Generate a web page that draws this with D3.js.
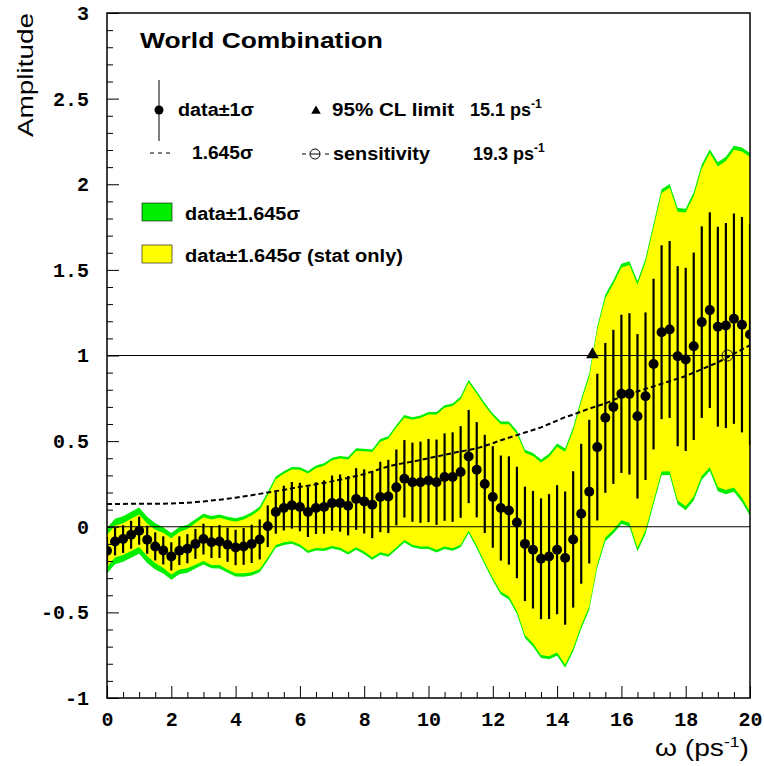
<!DOCTYPE html>
<html>
<head>
<meta charset="utf-8">
<script src="https://cdn.jsdelivr.net/npm/d3@7"></script>
<style>
  body { margin: 0; background: #fff; }
  text { font-family: "Liberation Sans", Arial, sans-serif; }
  .tick text { font-family: "Liberation Mono", "Courier New", monospace; font-weight: bold; font-size: 20px; }
</style>
</head>
<body>
<div id="chart"></div>
<script>
// scan points (ps^-1)
const omega = [0, 0.25, 0.5, 0.75, 1, 1.25, 1.5, 1.75, 2, 2.25, 2.5, 2.75, 3, 3.25, 3.5, 3.75,
  4, 4.25, 4.5, 4.75, 5, 5.25, 5.5, 5.75, 6, 6.25, 6.5, 6.75, 7, 7.25, 7.5, 7.75,
  8, 8.25, 8.5, 8.75, 9, 9.25, 9.5, 9.75, 10, 10.25, 10.5, 10.75, 11, 11.25, 11.5, 11.75,
  12, 12.25, 12.5, 12.75, 13, 13.25, 13.5, 13.75, 14, 14.25, 14.5, 14.75, 15, 15.25, 15.5, 15.75,
  16, 16.25, 16.5, 16.75, 17, 17.25, 17.5, 17.75, 18, 18.25, 18.5, 18.75, 19, 19.25, 19.5, 19.75, 20];

// measured amplitude
const amplitude = [-0.14, -0.086, -0.072, -0.047, -0.023, -0.076, -0.115, -0.138, -0.173, -0.14, -0.128, -0.10, -0.072, -0.09, -0.086, -0.105,
  -0.121, -0.115, -0.10, -0.074, 0.003, 0.086, 0.109, 0.125, 0.115, 0.086, 0.109, 0.115, 0.138, 0.138, 0.123, 0.162,
  0.148, 0.129, 0.174, 0.177, 0.23, 0.28, 0.26, 0.26, 0.27, 0.26, 0.29, 0.29, 0.32, 0.41, 0.333, 0.25,
  0.174, 0.109, 0.095, 0.025, -0.10, -0.134, -0.187, -0.174, -0.134, -0.183, -0.074, 0.076, 0.205, 0.465, 0.636, 0.70,
  0.776, 0.776, 0.645, 0.762, 0.95, 1.136, 1.152, 0.996, 0.977, 1.054, 1.195, 1.265, 1.168, 1.175, 1.215, 1.18, 1.123];

// 1.645 sigma, total errors (dashed curve)
const sig1645 = [0.133, 0.133, 0.133, 0.134, 0.135, 0.135, 0.135, 0.135, 0.136, 0.138, 0.140, 0.144, 0.148, 0.153, 0.158, 0.164,
  0.170, 0.177, 0.184, 0.192, 0.200, 0.208, 0.215, 0.224, 0.233, 0.240, 0.248, 0.256, 0.265, 0.275, 0.285, 0.296,
  0.308, 0.322, 0.338, 0.352, 0.364, 0.372, 0.380, 0.390, 0.400, 0.410, 0.420, 0.430, 0.440, 0.448, 0.458, 0.472,
  0.488, 0.505, 0.520, 0.535, 0.550, 0.565, 0.580, 0.600, 0.620, 0.640, 0.655, 0.672, 0.690, 0.705, 0.720, 0.740,
  0.760, 0.775, 0.790, 0.805, 0.820, 0.835, 0.850, 0.865, 0.880, 0.900, 0.920, 0.940, 0.960, 0.985, 1.010, 1.035, 1.060];

// 1.645 sigma, statistical errors only
const stat1645 = [0.093, 0.093, 0.093, 0.094, 0.095, 0.095, 0.097, 0.103, 0.106, 0.110, 0.115, 0.122, 0.128, 0.133, 0.138, 0.144,
  0.150, 0.157, 0.165, 0.174, 0.183, 0.192, 0.200, 0.209, 0.218, 0.225, 0.233, 0.241, 0.250, 0.260, 0.270, 0.281,
  0.293, 0.307, 0.323, 0.337, 0.349, 0.357, 0.365, 0.375, 0.385, 0.395, 0.405, 0.415, 0.425, 0.433, 0.443, 0.457,
  0.473, 0.489, 0.503, 0.517, 0.532, 0.547, 0.562, 0.582, 0.601, 0.621, 0.635, 0.652, 0.670, 0.685, 0.699, 0.718,
  0.738, 0.753, 0.768, 0.783, 0.798, 0.813, 0.828, 0.843, 0.858, 0.877, 0.897, 0.917, 0.936, 0.961, 0.986, 1.011, 1.036];

const limit95 = 15.1;
const sensitivity = 19.3;

const xMajor = [0, 2, 4, 6, 8, 10, 12, 14, 16, 18, 20];
const xMinor = [0.5, 1, 1.5, 2.5, 3, 3.5, 4.5, 5, 5.5, 6.5, 7, 7.5, 8.5, 9, 9.5, 10.5, 11, 11.5,
  12.5, 13, 13.5, 14.5, 15, 15.5, 16.5, 17, 17.5, 18.5, 19, 19.5];
const yMajor = [-1, -0.5, 0, 0.5, 1, 1.5, 2, 2.5, 3];
const yMinor = [-0.9, -0.8, -0.7, -0.6, -0.4, -0.3, -0.2, -0.1, 0.1, 0.2, 0.3, 0.4, 0.6, 0.7, 0.8, 0.9,
  1.1, 1.2, 1.3, 1.4, 1.6, 1.7, 1.8, 1.9, 2.1, 2.2, 2.3, 2.4, 2.6, 2.7, 2.8, 2.9];
const yLabels = ['-1', '-0.5', '0', '0.5', '1', '1.5', '2', '2.5', '3'];

const width = 764, height = 766;
const margin = {top: 13, right: 14, bottom: 68, left: 107};

const svg = d3.select('#chart').append('svg')
    .attr('width', width)
    .attr('height', height);

const x = d3.scaleLinear().domain([0, 20]).range([margin.left, width - margin.right]);
const y = d3.scaleLinear().domain([-1, 3]).range([height - margin.bottom, margin.top]);

const points = omega.map((w, i) => ({
    w: w,
    a: amplitude[i],
    tot: sig1645[i],
    stat: stat1645[i]
}));

svg.append('clipPath').attr('id', 'plot-clip')
  .append('rect')
    .attr('x', x(0)).attr('y', y(3))
    .attr('width', x(20) - x(0)).attr('height', y(-1) - y(3));

const plot = svg.append('g').attr('clip-path', 'url(#plot-clip)');

// bands: total then stat only
const band = key => d3.area()
    .x(d => x(d.w))
    .y0(d => y(d.a - d[key]))
    .y1(d => y(d.a + d[key]));

plot.append('path').datum(points)
    .attr('d', band('tot'))
    .attr('fill', '#00ee00');

plot.append('path').datum(points)
    .attr('d', band('stat'))
    .attr('fill', '#ffff00');

// reference lines at 0 and 1
plot.selectAll('.ref').data([0, 1]).enter()
  .append('line')
    .attr('class', 'ref')
    .attr('x1', x(0)).attr('x2', x(20))
    .attr('y1', d => y(d)).attr('y2', d => y(d))
    .attr('stroke', '#000')
    .attr('stroke-width', 1.2);

// 1.645 sigma dashed curve
plot.append('path').datum(points)
    .attr('d', d3.line().x(d => x(d.w)).y(d => y(d.tot)))
    .attr('fill', 'none')
    .attr('stroke', '#000')
    .attr('stroke-width', 2)
    .attr('stroke-dasharray', '5,3');

// error bars +-1 sigma
plot.selectAll('.err').data(points).enter()
  .append('line')
    .attr('class', 'err')
    .attr('x1', d => x(d.w)).attr('x2', d => x(d.w))
    .attr('y1', d => y(d.a - d.tot / 1.645))
    .attr('y2', d => y(d.a + d.tot / 1.645))
    .attr('stroke', '#000')
    .attr('stroke-width', 2.2);

plot.selectAll('.pt').data(points).enter()
  .append('circle')
    .attr('class', 'pt')
    .attr('cx', d => x(d.w))
    .attr('cy', d => y(d.a))
    .attr('r', 5)
    .attr('fill', '#000');

// 95% CL limit and sensitivity markers
plot.append('path')
    .attr('d', d3.symbol(d3.symbolTriangle, 70))
    .attr('transform', `translate(${x(limit95)},${y(1) - 1})`)
    .attr('fill', '#000');

plot.append('circle')
    .attr('cx', x(sensitivity)).attr('cy', y(1))
    .attr('r', 5.5)
    .attr('fill', 'none')
    .attr('stroke', '#000')
    .attr('stroke-width', 1);

// axes, ticks pointing inside
svg.append('g')
    .attr('transform', `translate(${margin.left},0)`)
    .call(d3.axisLeft(y).tickValues(yMajor).tickSize(-12).tickPadding(18)
        .tickFormat((d, i) => yLabels[i]));
svg.append('g')
    .attr('transform', `translate(${margin.left},0)`)
    .call(d3.axisLeft(y).tickValues(yMinor).tickSize(-6).tickFormat(''));

svg.append('g')
    .attr('transform', `translate(0,${y(-1)})`)
    .call(d3.axisBottom(x).tickValues(xMajor).tickSize(-12).tickPadding(14).tickFormat(d3.format('d')));
svg.append('g')
    .attr('transform', `translate(0,${y(-1)})`)
    .call(d3.axisBottom(x).tickValues(xMinor).tickSize(-6).tickFormat(''));

svg.selectAll('.domain').remove();
svg.selectAll('.tick line').attr('stroke', '#000').attr('stroke-width', 1);
svg.selectAll('.tick text').attr('fill', '#000');

// frame
svg.append('rect')
    .attr('x', x(0)).attr('y', y(3))
    .attr('width', x(20) - x(0)).attr('height', y(-1) - y(3))
    .attr('fill', 'none')
    .attr('stroke', '#000')
    .attr('stroke-width', 1.5);

// axis titles
svg.append('text')
    .attr('transform', `translate(33,${margin.top}) rotate(-90)`)
    .attr('text-anchor', 'end')
    .attr('font-size', 22)
    .attr('textLength', 124)
    .attr('lengthAdjust', 'spacingAndGlyphs')
    .text('Amplitude');

const xt = svg.append('text')
    .attr('x', 749).attr('y', 756)
    .attr('text-anchor', 'end')
    .attr('font-size', 24)
    .attr('textLength', 94)
    .attr('lengthAdjust', 'spacingAndGlyphs');
xt.append('tspan').text('\u03c9 (ps');
xt.append('tspan').attr('dy', -9).attr('font-size', 15).text('-1');
xt.append('tspan').attr('dy', 9).text(')');

// legend
const lg = svg.append('g').attr('font-weight', 'bold').attr('font-size', 18);

lg.append('text').attr('x', 140).attr('y', 48).attr('font-size', 22)
    .attr('textLength', 243).attr('lengthAdjust', 'spacingAndGlyphs')
    .text('World Combination');

lg.append('line').attr('x1', 159).attr('x2', 159).attr('y1', 80).attr('y2', 141)
    .attr('stroke', '#000').attr('stroke-width', 1);
lg.append('circle').attr('cx', 159).attr('cy', 110).attr('r', 4.5).attr('fill', '#000');
lg.append('text').attr('x', 178).attr('y', 116)
    .attr('textLength', 76).attr('lengthAdjust', 'spacingAndGlyphs')
    .text('data\u00b11\u03c3');

lg.append('path')
    .attr('d', d3.symbol(d3.symbolTriangle, 40))
    .attr('transform', 'translate(316,111)')
    .attr('fill', '#000');
lg.append('text').attr('x', 332).attr('y', 116)
    .attr('textLength', 122).attr('lengthAdjust', 'spacingAndGlyphs')
    .text('95% CL limit');
const t1 = lg.append('text').attr('x', 470).attr('y', 116);
t1.append('tspan').text('15.1 ps');
t1.append('tspan').attr('dy', -8).attr('font-size', 12).text('-1');

lg.append('line').attr('x1', 150).attr('x2', 173).attr('y1', 153).attr('y2', 153)
    .attr('stroke', '#000').attr('stroke-width', 1).attr('stroke-dasharray', '4,4');
lg.append('text').attr('x', 192).attr('y', 159)
    .attr('textLength', 61).attr('lengthAdjust', 'spacingAndGlyphs')
    .text('1.645\u03c3');

lg.append('line').attr('x1', 302).attr('x2', 306).attr('y1', 154).attr('y2', 154).attr('stroke', '#000');
lg.append('circle').attr('cx', 315).attr('cy', 154).attr('r', 5)
    .attr('fill', 'none').attr('stroke', '#000').attr('stroke-width', 1);
lg.append('line').attr('x1', 310).attr('x2', 320).attr('y1', 154).attr('y2', 154).attr('stroke', '#000');
lg.append('line').attr('x1', 325).attr('x2', 329).attr('y1', 154).attr('y2', 154).attr('stroke', '#000');
lg.append('text').attr('x', 333).attr('y', 160)
    .attr('textLength', 97).attr('lengthAdjust', 'spacingAndGlyphs')
    .text('sensitivity');
const t2 = lg.append('text').attr('x', 473).attr('y', 160);
t2.append('tspan').text('19.3 ps');
t2.append('tspan').attr('dy', -8).attr('font-size', 12).text('-1');

const boxes = [
    {fill: '#00ee00', label: 'data\u00b11.645\u03c3', y: 203, len: 115},
    {fill: '#ffff00', label: 'data\u00b11.645\u03c3 (stat only)', y: 245, len: 218}
];
boxes.forEach(b => {
    lg.append('rect').attr('x', 142).attr('y', b.y).attr('width', 30).attr('height', 18)
        .attr('fill', b.fill).attr('stroke', '#000').attr('stroke-width', 0.6);
    lg.append('text').attr('x', 185).attr('y', b.y + 17)
        .attr('textLength', b.len).attr('lengthAdjust', 'spacingAndGlyphs')
        .text(b.label);
});
</script>
</body>
</html>
